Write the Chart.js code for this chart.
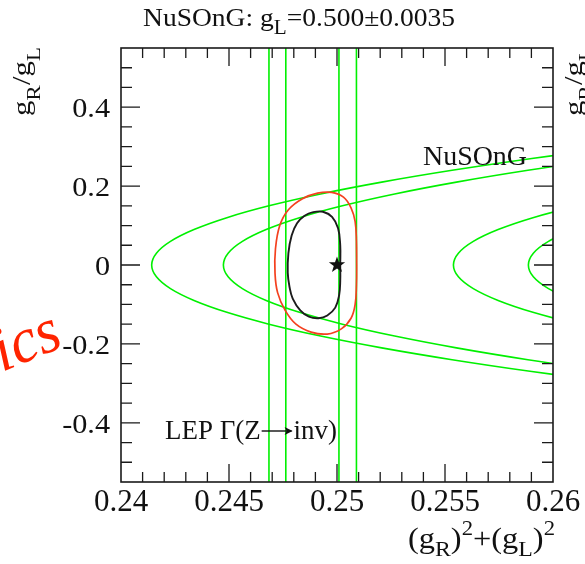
<!DOCTYPE html>
<html><head><meta charset="utf-8">
<script src="https://cdn.jsdelivr.net/npm/chart.js@4/dist/chart.umd.min.js"></script>
<style>html,body{margin:0;padding:0;background:#fff;}</style>
</head><body>
<canvas id="c" width="585" height="564"></canvas>
<script>
// ---------------- data ----------------
const xRange = [0.24, 0.26];
const yRange = [-0.55, 0.55];
const xTickValues = [0.24, 0.245, 0.25, 0.255, 0.26];
const xTickLabels = ['0.24', '0.245', '0.25', '0.255', '0.26'];
const yTickValues = [-0.4, -0.2, 0, 0.2, 0.4];
const yTickLabels = ['-0.4', '-0.2', '0', '0.2', '0.4'];
const xMinorStep = 0.001;
const yMinorStep = 0.05;

// NuSOnG band edges ([x, y] points)
const nusongOuterLow = [[0.26315,-0.30],[0.25902,-0.27],[0.25533,-0.24],[0.25207,-0.21],[0.24924,-0.18],[0.24685,-0.15],[0.24490,-0.12],[0.24338,-0.09],[0.24229,-0.06],[0.24164,-0.03],[0.24142,0],[0.24164,0.03],[0.24229,0.06],[0.24338,0.09],[0.24490,0.12],[0.24685,0.15],[0.24924,0.18],[0.25207,0.21],[0.25533,0.24],[0.25902,0.27],[0.26315,0.30]];
const nusongInnerLow = [[0.26258,-0.27],[0.25884,-0.24],[0.25553,-0.21],[0.25267,-0.18],[0.25025,-0.15],[0.24826,-0.12],[0.24672,-0.09],[0.24562,-0.06],[0.24496,-0.03],[0.24474,0],[0.24496,0.03],[0.24562,0.06],[0.24672,0.09],[0.24826,0.12],[0.25025,0.15],[0.25267,0.18],[0.25553,0.21],[0.25884,0.24],[0.26258,0.27]];
const nusongInnerHigh = [[0.26114,-0.15],[0.25907,-0.12],[0.25746,-0.09],[0.25631,-0.06],[0.25562,-0.03],[0.25539,0],[0.25562,0.03],[0.25631,0.06],[0.25746,0.09],[0.25907,0.12],[0.26114,0.15]];
const nusongOuterHigh = [[0.26096,-0.09],[0.25979,-0.06],[0.25909,-0.03],[0.25886,0],[0.25909,0.03],[0.25979,0.06],[0.26096,0.09]];

// LEP Gamma(Z->inv) band edges (vertical lines)
const lepLines = [0.24685, 0.24763, 0.25009, 0.25090];

// combined contours
const redContour = [[0.25091,0.00],[0.25090,0.06],[0.25084,0.11],[0.25065,0.145],[0.25030,0.172],[0.24975,0.184],[0.24910,0.182],[0.24840,0.168],[0.24775,0.140],[0.24735,0.100],[0.24715,0.04],[0.24713,-0.02],[0.24725,-0.07],[0.24760,-0.115],[0.24810,-0.150],[0.24880,-0.170],[0.24955,-0.175],[0.25020,-0.162],[0.25065,-0.135],[0.25084,-0.10],[0.25090,-0.05]];
const blackContour = [[0.25015,0.00],[0.25015,0.05],[0.25005,0.093],[0.24977,0.122],[0.24935,0.135],[0.24890,0.134],[0.24850,0.125],[0.24815,0.106],[0.24790,0.075],[0.24775,0.03],[0.24772,-0.02],[0.24780,-0.055],[0.24795,-0.085],[0.24830,-0.115],[0.24870,-0.131],[0.24915,-0.135],[0.24955,-0.128],[0.24992,-0.108],[0.25010,-0.076],[0.25015,-0.04]];

const bestFit = [[0.25, 0]];

// ---------------- helpers ----------------
const FONT = '"Liberation Serif", "Times New Roman", serif';
const pts = a => a.map(([x, y]) => ({x, y}));
const loop = a => pts(a.concat([a[0], a[1]]));

function makeStar() {
  const c = document.createElement('canvas');
  c.width = c.height = 20;
  const g = c.getContext('2d');
  g.fillStyle = '#111';
  g.beginPath();
  for (let i = 0; i < 10; i++) {
    const r = i % 2 ? 3.4 : 8.6;
    const a = -Math.PI / 2 + i * Math.PI / 5;
    g.lineTo(10 + r * Math.cos(a), 10 + r * Math.sin(a));
  }
  g.closePath();
  g.fill();
  return c;
}

function drawRich(ctx, segs, x, y, opt) {
  let total = 0;
  const widths = segs.map(s => {
    if (s.arrow) { total += s.w; return s.w; }
    ctx.font = (s.italic ? 'italic ' : '') + s.size + 'px ' + FONT;
    const w = ctx.measureText(s.t).width;
    total += w;
    return w;
  });
  const sx = opt.width ? opt.width / total : (opt.sx || 1);
  let x0 = x;
  if (opt.align === 'center') x0 = x - total * sx / 2;
  else if (opt.align === 'right') x0 = x - total * sx;
  ctx.save();
  ctx.translate(x0, y);
  ctx.scale(sx, 1);
  ctx.fillStyle = opt.color || '#111';
  ctx.strokeStyle = opt.color || '#111';
  ctx.textBaseline = 'alphabetic';
  ctx.textAlign = 'left';
  let cx = 0;
  segs.forEach((s, i) => {
    if (s.arrow) {
      const ay = -s.lift;
      ctx.lineWidth = 1.4;
      ctx.beginPath();
      ctx.moveTo(cx + 1, ay); ctx.lineTo(cx + s.w - 2, ay);
      ctx.stroke();
      ctx.beginPath();
      ctx.moveTo(cx + s.w - 1, ay);
      ctx.lineTo(cx + s.w - 9, ay - 4);
      ctx.lineTo(cx + s.w - 7, ay);
      ctx.lineTo(cx + s.w - 9, ay + 4);
      ctx.closePath();
      ctx.fill();
    } else {
      ctx.font = (s.italic ? 'italic ' : '') + s.size + 'px ' + FONT;
      ctx.fillText(s.t, cx, s.dy || 0);
    }
    cx += widths[i];
  });
  ctx.restore();
}

const yTitleSegs = [
  {t: 'g', size: 25}, {t: 'R', size: 19, dy: 10}, {t: '/', size: 25},
  {t: 'g', size: 25}, {t: 'L', size: 19, dy: 10}
];

const decor = {
  id: 'decor',
  afterDatasetsDraw(chart) {
    const {ctx, chartArea: a, scales: {x, y}} = chart;
    ctx.save();
    // frame
    ctx.strokeStyle = '#1a1a1a';
    ctx.lineWidth = 1.6;
    ctx.strokeRect(a.left, a.top, a.right - a.left, a.bottom - a.top);
    // ticks (inward, ROOT style)
    ctx.lineWidth = 1.3;
    ctx.beginPath();
    const nx = Math.round((xRange[1] - xRange[0]) / xMinorStep);
    for (let i = 1; i < nx; i++) {
      const v = xRange[0] + i * xMinorStep;
      const px = x.getPixelForValue(v);
      const major = xTickValues.some(t => Math.abs(t - v) < 1e-7);
      const L = major ? 18 : 10;
      ctx.moveTo(px, a.bottom); ctx.lineTo(px, a.bottom - L);
      ctx.moveTo(px, a.top); ctx.lineTo(px, a.top + L);
    }
    const ny = Math.round((yRange[1] - yRange[0]) / yMinorStep);
    for (let i = 1; i < ny; i++) {
      const v = yRange[0] + i * yMinorStep;
      const py = y.getPixelForValue(v);
      const major = yTickValues.some(t => Math.abs(t - v) < 1e-7);
      const L = major ? 19 : 11;
      ctx.moveTo(a.left, py); ctx.lineTo(a.left + L, py);
      ctx.moveTo(a.right, py); ctx.lineTo(a.right - L, py);
    }
    ctx.stroke();

    // tick labels
    xTickValues.forEach((v, i) => {
      drawRich(ctx, [{t: xTickLabels[i], size: 31}], x.getPixelForValue(v), a.bottom + 29, {align: 'center'});
    });
    yTickValues.forEach((v, i) => {
      drawRich(ctx, [{t: yTickLabels[i], size: 28}], a.left - 11, y.getPixelForValue(v) + 10, {align: 'right', sx: 1.08});
    });

    // title
    drawRich(ctx, [
      {t: 'NuSOnG: g', size: 26}, {t: 'L', size: 20, dy: 8}, {t: '=0.500\u00b10.0035', size: 26}
    ], 143, 26, {align: 'left', width: 312});

    // x-axis title
    drawRich(ctx, [
      {t: '(g', size: 30}, {t: 'R', size: 22, dy: 8}, {t: ')', size: 30}, {t: '2', size: 21, dy: -13},
      {t: '+(g', size: 30}, {t: 'L', size: 22, dy: 8}, {t: ')', size: 30}, {t: '2', size: 21, dy: -13}
    ], 555, 548, {align: 'right', width: 147});

    // y-axis title (rotated)
    ctx.save();
    ctx.translate(30, 116);
    ctx.rotate(-Math.PI / 2);
    drawRich(ctx, yTitleSegs, 0, 0, {align: 'left', width: 69});
    ctx.restore();
    // neighbouring panel's y-axis title (cut by the edge)
    ctx.save();
    ctx.translate(582, 116);
    ctx.rotate(-Math.PI / 2);
    drawRich(ctx, yTitleSegs, 0, 0, {align: 'left', width: 69});
    ctx.restore();

    // in-plot labels
    drawRich(ctx, [{t: 'NuSOnG', size: 27}], 423, 165, {align: 'left', width: 104});
    drawRich(ctx, [
      {t: 'LEP \u0393(Z', size: 27}, {arrow: true, w: 33, lift: 8}, {t: 'inv)', size: 27}
    ], 165, 439, {align: 'left', width: 172});

    // red slide text fragment at the left edge
    ctx.save();
    ctx.translate(2, 372);
    ctx.rotate(-0.39);
    drawRich(ctx, [{t: 'ics', size: 64, italic: true}], 0, 0, {align: 'left', width: 68, color: '#ff2400'});
    ctx.restore();

    ctx.restore();
  }
};

const green = '#00f000';
const lineDs = (arr, color, w, order) => ({
  data: pts(arr), showLine: true, borderColor: color, borderWidth: w,
  pointRadius: 0, tension: 0.4, order, fill: false
});
const closedDs = (arr, color, w, order) => ({
  data: loop(arr), showLine: true, borderColor: color, borderWidth: w,
  pointRadius: 0, tension: 0.4, order, fill: false
});

const datasets = [
  {data: pts(bestFit), pointStyle: makeStar(), pointRadius: 9, showLine: false, order: 0},
  closedDs(blackContour, '#1c1c1c', 1.9, 1),
  closedDs(redContour, '#f4401f', 1.7, 2),
  lineDs(nusongOuterLow, green, 1.6, 3),
  lineDs(nusongInnerLow, green, 1.6, 3),
  lineDs(nusongInnerHigh, green, 1.6, 3),
  lineDs(nusongOuterHigh, green, 1.6, 3),
  ...lepLines.map(v => ({
    data: [{x: v, y: yRange[0] - 0.05}, {x: v, y: yRange[1] + 0.05}],
    showLine: true, borderColor: green, borderWidth: 1.6, pointRadius: 0, order: 4
  }))
];

new Chart(document.getElementById('c'), {
  type: 'scatter',
  data: {datasets},
  options: {
    responsive: false,
    devicePixelRatio: 1,
    animation: false,
    layout: {padding: {left: 0, right: 32, top: 48, bottom: 0}},
    elements: {line: {capBezierPoints: false}},
    plugins: {legend: {display: false}, tooltip: {enabled: false}, title: {display: false}},
    scales: {
      x: {
        type: 'linear', min: xRange[0], max: xRange[1],
        grid: {display: false}, border: {display: false}, ticks: {display: false},
        afterFit(s) { s.height = 82; }
      },
      y: {
        type: 'linear', min: yRange[0], max: yRange[1],
        grid: {display: false}, border: {display: false}, ticks: {display: false},
        afterFit(s) { s.width = 121; }
      }
    }
  },
  plugins: [decor]
});
</script>
</body></html>
